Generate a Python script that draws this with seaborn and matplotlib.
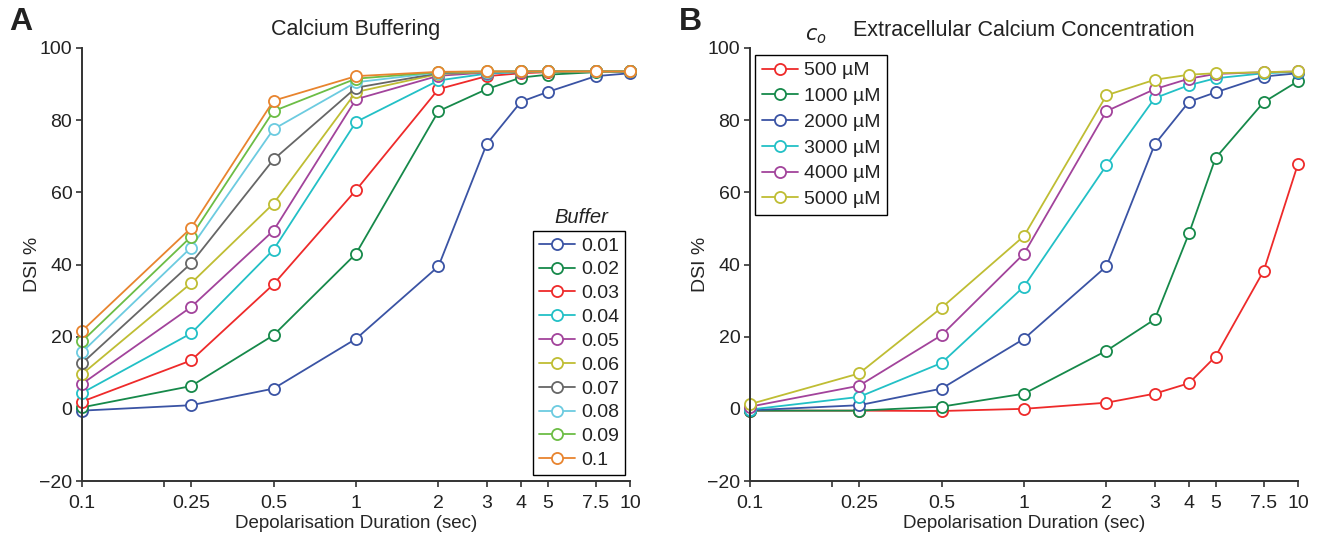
import matplotlib
matplotlib.use("Agg")
import matplotlib.pyplot as plt
import seaborn as sns
import pandas as pd
from matplotlib.lines import Line2D

# ── data ──────────────────────────────────────────────────────────────────────
DURATION = [0.1, 0.25, 0.5, 1, 2, 3, 4, 5, 7.5, 10]

BUFFER_LABELS = ["0.01", "0.02", "0.03", "0.04", "0.05",
                 "0.06", "0.07", "0.08", "0.09", "0.1"]
buf_001 = [-0.5, 1.0, 5.6, 19.4, 39.5, 73.4, 85.1, 87.8, 92.2, 93.0]
buf_002 = [0.4, 6.3, 20.4, 43.0, 82.5, 88.6, 91.8, 92.6, 93.3, 93.5]
buf_003 = [2.0, 13.4, 34.5, 60.6, 88.6, 92.2, 93.0, 93.3, 93.5, 93.5]
buf_004 = [4.4, 20.9, 44.1, 79.5, 91.0, 92.9, 93.3, 93.5, 93.5, 93.5]
buf_005 = [6.9, 28.2, 49.4, 85.8, 92.3, 93.2, 93.4, 93.5, 93.5, 93.5]
buf_006 = [9.6, 34.8, 56.9, 87.8, 92.8, 93.3, 93.5, 93.5, 93.5, 93.5]
buf_007 = [12.6, 40.3, 69.1, 89.0, 93.0, 93.4, 93.5, 93.5, 93.5, 93.5]
buf_008 = [15.7, 44.7, 77.5, 90.5, 93.2, 93.4, 93.5, 93.5, 93.5, 93.5]
buf_009 = [18.7, 47.7, 82.5, 91.5, 93.3, 93.5, 93.5, 93.5, 93.5, 93.5]
buf_010 = [21.6, 50.1, 85.4, 92.2, 93.4, 93.5, 93.5, 93.5, 93.5, 93.5]
BUFFER_SERIES = [buf_001, buf_002, buf_003, buf_004, buf_005,
                 buf_006, buf_007, buf_008, buf_009, buf_010]

CO_LABELS = ["500 µM", "1000 µM", "2000 µM", "3000 µM", "4000 µM", "5000 µM"]
co_500 = [-0.5, -0.5, -0.6, 0.0, 1.7, 4.2, 7.1, 14.5, 38.3, 67.9]
co_1000 = [-0.5, -0.5, 0.6, 4.2, 16.1, 24.8, 48.6, 69.5, 85.0, 90.8]
co_2000 = [-0.4, 1.0, 5.6, 19.4, 39.5, 73.3, 85.1, 87.7, 92.1, 93.0]
co_3000 = [-0.2, 3.3, 12.7, 33.9, 67.5, 86.1, 89.7, 91.6, 93.0, 93.4]
co_4000 = [0.6, 6.4, 20.4, 43.0, 82.5, 88.6, 91.5, 92.8, 93.3, 93.5]
co_5000 = [1.3, 9.8, 28.0, 47.9, 86.9, 91.2, 92.6, 93.0, 93.3, 93.5]
CO_SERIES = [co_500, co_1000, co_2000, co_3000, co_4000, co_5000]

XTICKS = [0.1, 0.25, 0.5, 1, 2, 3, 4, 5, 7.5, 10]
XTICK_LABELS = ["0.1", "0.25", "0.5", "1", "2", "3", "4", "5", "7.5", "10"]
YTICKS = [-20, 0, 20, 40, 60, 80, 100]

# ── colours ───────────────────────────────────────────────────────────────────
BLUE, GREEN, RED = "#3a53a4", "#16894a", "#ee2a2a"
CYAN, MAGENTA, YELLOW = "#22c0c6", "#a2439b", "#bfbd33"
GRAY, LBLUE, LGREEN, ORANGE = "#666666", "#6ccbe0", "#6cbd45", "#e8842e"
BUFFER_COLORS = [BLUE, GREEN, RED, CYAN, MAGENTA, YELLOW, GRAY, LBLUE, LGREEN, ORANGE]
CO_COLORS = [RED, GREEN, BLUE, CYAN, MAGENTA, YELLOW]

sns.set_style("ticks")
plt.rcParams["font.family"] = ["Liberation Sans", "DejaVu Sans"]
plt.rcParams["axes.edgecolor"] = "#333333"
plt.rcParams["text.color"] = "#222222"

fig = plt.figure(figsize=(13.19, 5.37), dpi=100)
axA = fig.add_axes([82 / 1319, 56 / 537, 548 / 1319, 433 / 537])
axB = fig.add_axes([750 / 1319, 56 / 537, 548 / 1319, 433 / 537])

MS = 8


def draw_panel(ax, series, labels, colors):
    handles = []
    for vals, lab, col in zip(series, labels, colors):
        d = pd.DataFrame({"dur": DURATION, "dsi": vals})
        sns.lineplot(data=d, x="dur", y="dsi", ax=ax, color=col, linewidth=1.3,
                     marker="o", markersize=MS, legend=False)
        ln = ax.lines[-1]
        ln.set_markerfacecolor("white")
        ln.set_markeredgecolor(col)
        ln.set_markeredgewidth(1.3)
        ln.set_clip_on(False)
        handles.append(Line2D([], [], color=col, linewidth=1.3, marker="o",
                              markersize=MS, markerfacecolor="white",
                              markeredgecolor=col, markeredgewidth=1.3, label=lab))
    ax.set_xscale("log")
    ax.set_xlim(0.1, 10)
    ax.set_ylim(-20, 100)
    ax.set_xticks(XTICKS)
    ax.set_xticklabels(XTICK_LABELS)
    ax.set_xticks([0.2], minor=True)
    ax.xaxis.set_minor_formatter(matplotlib.ticker.NullFormatter())
    ax.set_yticks(YTICKS)
    ax.tick_params(axis="both", which="major", labelsize=14, length=4, width=1.2,
                   color="#333333", labelcolor="#222222")
    ax.tick_params(axis="x", which="major", pad=6)
    ax.tick_params(axis="y", which="major", pad=3)
    ax.tick_params(axis="x", which="minor", length=4, width=1.2, color="#333333")
    ax.set_xlabel("Depolarisation Duration (sec)", fontsize=13.5, labelpad=2)
    ax.set_ylabel("DSI %", fontsize=14, labelpad=-1)
    for s in ("left", "bottom"):
        ax.spines[s].set_linewidth(1.4)
    sns.despine(ax=ax)
    return handles


hA = draw_panel(axA, BUFFER_SERIES, BUFFER_LABELS, BUFFER_COLORS)
hB = draw_panel(axB, CO_SERIES, CO_LABELS, CO_COLORS)

axA.set_title("Calcium Buffering", fontsize=15.5, pad=9)
axB.set_title("Extracellular Calcium Concentration", fontsize=15.5, pad=9)

legA = axA.legend(handles=hA, loc="lower right", bbox_to_anchor=(0.991, 0.014),
                  fontsize=14, frameon=True, fancybox=False, framealpha=1,
                  edgecolor="black", handlelength=1.85, handletextpad=0.3,
                  labelspacing=0.32, borderpad=0.3, borderaxespad=0)
legA.get_frame().set_linewidth(1.0)
axA.text(0.912, 0.587, "Buffer", transform=axA.transAxes, fontsize=14.5,
         style="italic", ha="center", va="bottom")

legB = axB.legend(handles=hB, loc="upper left", bbox_to_anchor=(0.009, 0.984),
                  fontsize=14, frameon=True, fancybox=False, framealpha=1,
                  edgecolor="black", handlelength=1.85, handletextpad=0.3,
                  labelspacing=0.42, borderpad=0.35, borderaxespad=0)
legB.get_frame().set_linewidth(1.0)
axB.text(0.12, 1.027, "$c_o$", transform=axB.transAxes, fontsize=15,
         ha="center", va="center")

fig.text(9 / 1319, 1 - 22 / 537, "A", fontsize=23, fontweight="bold", va="center")
fig.text(679 / 1319, 1 - 22 / 537, "B", fontsize=23, fontweight="bold", va="center")

fig.savefig("out.png", dpi=100)
